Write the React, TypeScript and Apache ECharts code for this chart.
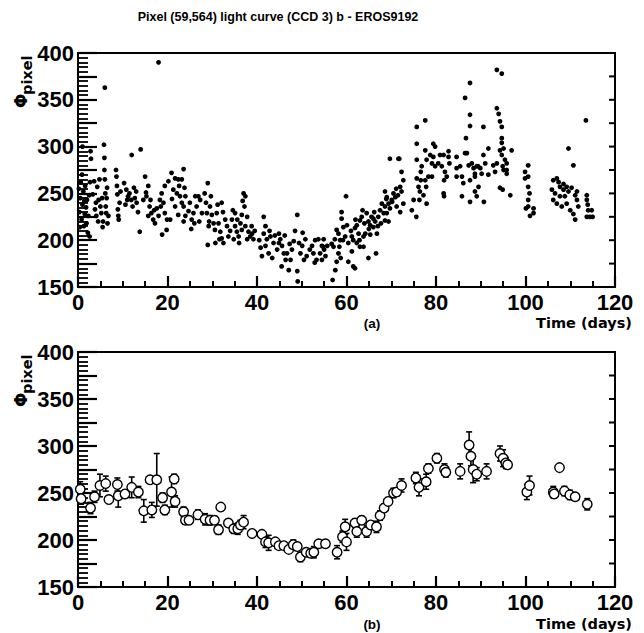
import React, { useEffect, useRef } from "react";
import * as echarts from "echarts";

// Top panel: individual measurements [time (days), flux]
const rawPoints: number[][] = [
  [0.3,230],[0.5,245],[0.6,262],[0.8,222],[1.0,300],[1.0,238],[1.2,252],[1.3,215],[1.5,228],[1.6,258],[1.8,235],[2.0,243],[2.2,208],[2.3,226],[2.5,248],[2.7,262],[2.8,295],[2.9,287],[2.6,204],[0.4,214],[0.9,270],[1.4,242],[0.2,255],[1.9,218],
  [3.3,249],[3.6,263],[3.8,233],[4.1,226],[4.3,257],[4.5,220],[4.6,243],[4.8,265],[5.0,236],[5.2,229],[5.4,245],[5.6,220],[5.8,302],[5.9,288],[5.9,275],[6.0,363],[6.0,265],[6.1,250],[6.2,236],[6.3,229],[6.4,245],[6.5,256],[6.6,218],[5.5,214],[4.0,240],[6.8,226],
  [8.5,275],[8.6,268],[8.7,258],[8.8,249],[8.9,233],[9.0,226],[9.1,222],[9.3,240],[9.5,252],
  [10.3,261],[10.8,254],[11.2,247],[11.5,250],[11.9,243],[12.0,291],[12.2,236],[11.0,243],[12.7,245],[13.1,240],[12.5,256],[13.0,252],[13.8,209],[14.0,297],[13.4,230],[10.6,238],
  [15.0,268],[15.7,258],[15.3,247],[16.0,236],[16.4,229],[16.8,222],[17.2,218],[15.7,226],[14.6,243],[15.2,251],[16.2,243],[17.0,232],
  [18.0,390],[18.7,250],[19.1,240],[19.4,229],[18.3,243],[18.8,206],[19.8,211],[17.6,234],[18.0,226],[19.4,258],[20.2,263],[18.5,236],[19.9,222],
  [20.9,272],[21.7,266],[22.4,265],[23.2,265],[21.3,254],[22.1,250],[22.8,247],[23.2,240],[21.7,236],[22.4,227],[20.6,222],[23.6,276],[23.8,256],[24.0,247],[23.6,236],[24.0,226],[23.6,220],[21.0,244],[22.6,258],
  [24.7,231],[25.4,222],[25.8,229],[26.5,236],[26.9,247],[27.3,243],[27.7,229],[26.2,247],[25.0,240],[27.1,220],[25.3,212],[26.0,218],
  [29.0,261],[28.6,240],[28.8,229],[29.2,215],[29.0,195],[29.5,236],[29.9,227],[30.3,218],[30.6,211],[29.7,247],[29.3,220],[28.3,250],
  [31.0,229],[31.4,218],[31.8,209],[32.1,202],[32.5,197],[32.9,222],[32.1,240],[33.3,215],[33.6,204],[31.6,201],[30.7,197],[32.4,230],[31.2,238],
  [34.4,222],[35.1,215],[35.5,209],[35.9,204],[36.3,218],[36.6,227],[37.0,250],[37.4,247],[37.2,236],[34.8,201],[36.0,197],[35.1,229],[36.6,211],[34.0,210],[37.4,215],[35.6,222],[34.6,232],[36.8,242],
  [38.1,209],[38.5,204],[37.8,201],[38.9,207],[39.2,201],[37.8,225],[38.8,215],[39.5,210],
  [41.5,225],[41.9,215],[41.5,207],[42.2,201],[41.9,194],[42.6,186],[43.4,181],[43.7,197],[43.0,204],[40.8,192],[41.1,183],[40.5,200],[42.8,210],[44.0,205],
  [44.9,207],[45.2,201],[45.6,194],[46.0,186],[46.4,179],[44.9,197],[46.7,186],[47.1,168],[48.2,199],[47.8,190],[47.5,179],[45.5,172],[44.5,190],[46.2,205],[47.3,196],
  [49.0,227],[49.0,167],[49.1,156],[49.7,186],[50.1,194],[50.8,201],[50.5,179],[49.4,197],[51.1,183],[48.5,210],[50.2,208],
  [52.3,194],[52.6,186],[53.3,179],[53.7,201],[54.1,186],[54.5,194],[54.9,201],[55.3,183],[52.9,176],[54.5,179],[55.7,194],[51.8,190],[53.0,200],[55.0,190],
  [54.8,193],[56.9,157.5],[57.5,168],[57.8,177],[57.1,193],[58.2,186],[58.6,200],[58.2,207],[57.8,211],[58.9,223],[58.9,230],[59.3,214],[59.2,200],[58.7,181],[59.7,204],[59.9,247],[60.1,216],[60.4,197],[60.4,177],[61.2,188],[61.5,172],[61.9,170],[58.4,193],[57.4,201],[56.7,196],
  [61.2,204],[61.5,200],[61.9,213],[62.3,216],[62.7,207],[63.0,221],[63.4,225],[63.6,232],[62.3,197],[63.0,193],[63.8,204],[63.8,193],[62.9,200],[61.0,210],[62.0,222],
  [64.5,229],[64.9,220],[65.3,216],[65.6,225],[66.0,214],[66.4,220],[66.8,207],[64.9,181],[66.6,186],[67.1,225],[67.5,232],[67.9,239],[68.3,229],[68.6,221],[64.2,207],[65.3,206],[66.0,223],[65.0,212],[66.2,230],[67.0,215],[67.7,218],[64.0,218],
  [68.6,252],[69.0,246],[69.4,239],[69.7,234],[70.1,243],[70.5,250],[69.7,287],[70.9,246],[71.2,236],[71.6,287],[72.0,230],[72.3,273],[72.7,264],[72.3,252],[72.7,239],[71.1,255],[72.0,257],[71.8,287],[69.0,229],[69.4,220],[68.6,236],[70.2,241],[71.5,248],[68.9,244],
  [74.6,232],[75.0,243],[75.6,225],[75.7,266],[75.7,286],[75.7,303],[75.7,321],[76.1,257],[76.4,252],[76.3,243],[76.6,273],[76.8,279],[76.6,264],[77.2,248],
  [77.6,328],[77.6,296],[77.9,286],[77.6,264],[77.8,257],[77.9,239],[78.3,268],[78.7,291],[79.1,282],[79.4,303],[79.8,300],[79.1,268],[79.8,279],[79.4,289],
  [80.5,282],[81.3,279],[80.9,291],[81.7,291],[82.0,273],[81.8,264],[81.7,250],[81.8,247],[82.8,295],[82.8,289],[83.0,282],[82.4,268],
  [84.6,289],[84.6,277],[85.4,279],[84.6,268],[85.8,268],[86.1,261],[85.8,247],[86.5,293],[86.7,309],[87.6,241],[87.6,264],[86.9,293],[86.5,352],[87.6,368],[87.6,334],[87.6,322],[87.3,280],
  [88.0,282],[88.4,277],[88.7,271],[89.1,279],[89.5,257],[89.9,277],[90.2,271],[90.6,321],[90.6,291],[91.0,282],[90.7,241],[88.7,268],[88.7,252],[89.1,247],[91.7,298],[91.7,270],[89.4,279],
  [93.6,382],[94.7,378],[93.6,341],[94.0,335],[94.3,327],[94.7,321],[94.7,309],[94.7,304],[94.3,296],[94.7,291],[95.1,298],[95.4,286],[95.8,282],[94.9,279],[93.6,282],[92.8,280],[93.2,273],[95.1,275],[95.8,275],[94.3,256],[94.9,254],[95.8,271],[96.6,248],[96.9,296],
  [100.6,280],[99.9,273],[99.9,266],[100.6,268],[100.6,257],[100.9,250],[100.6,243],[100.1,234],[101.0,226],[101.8,229],[101.8,234],[100.6,236],
  [106.2,264],[107.0,266],[107.4,262],[107.7,257],[105.9,254],[106.6,250],[106.2,243],[107.0,239],[107.7,247],[108.5,254],[108.8,247],[109.2,239],[109.6,252],[109.6,298],[110.7,280],[110.0,232],[110.7,228],[111.1,222],[111.5,243],[111.8,236],[108.1,236],[109.2,257],[110.3,256],[111.1,248],[111.5,252],[108.5,260],
  [113.5,328],[113.7,248],[113.7,243],[113.9,238],[113.7,225],[114.4,225],[115.0,225],[114.0,232],[114.8,232],
];

// Bottom panel: nightly binned values
const binDays: number[] = [0.5,0.7,2.8,3.7,4.9,6.2,6.9,8.8,9.0,10.5,12.0,13.5,14.7,16.1,16.5,17.6,18.9,19.4,20.9,21.5,21.7,23.6,24.0,24.8,26.8,28.4,29.5,30.5,31.4,31.9,33.6,34.8,35.7,36.3,37.0,38.9,41.1,41.9,42.6,44.1,44.9,46.0,47.1,48.1,49.0,49.7,51.0,52.0,52.7,53.8,55.3,57.9,59.1,59.7,60.0,61.9,62.3,63.4,64.5,65.4,66.7,67.5,68.4,69.3,70.5,71.2,72.3,75.5,76.2,77.8,78.3,80.2,81.9,82.2,85.4,87.4,87.8,88.3,89.1,91.3,94.3,95.0,95.6,96.0,100.3,100.9,106.2,106.4,107.6,108.7,109.9,111.1,113.8];
const binValues: number[] = [254,244,234,246,258,260,243,259,247,249,256,251,231,264,232,264,245,232,251,265,241,230,221,221,227,222,221,221,211,235,218,212,212,216,219,207,206,198,197,198,194,194,190,195,193,182,187,186,187,196,196,187,203.5,214,198,218,209,221,209,216,214,226,234,241,250,251,258,266,256,262,276,287,275,272,273,301,289,275,270,273,292,287,282,280,251,258,251,249,277,252,248,246,238];
const binErrors: number[] = [8,6,6,6,12,8,4,7,12,3,11,6,12,3,8,28,5,5,16,5,6,5,4,3,5,6,5,4,5,2,3,5,6,5,7,3,4,6,8,3,3,3,3,5,4,5,3,4,6,2,2,7,6,8,9,4,6,4,6,3,6,5,4,4,5,4,7,6,9,8,5,5,6,5,8,14,10,14,7,8,8,9,6,4,8,10,6,4,0,5,5,3,6];

// Axis ranges and ticks
const xMin = 0;
const xMax = 120;
const yMin = 150;
const yMax = 400;
const yLabelTicks = [150, 200, 250, 300, 350, 400];
const yRightTicks = [175, 200, 225, 250, 275, 300, 325, 350, 375];

const FONT = "Liberation Sans, Arial, Helvetica, sans-serif";
const WIDE = "DejaVu Sans, Verdana, sans-serif";

export default function App() {
  const ref = useRef<HTMLDivElement>(null);
  useEffect(() => {
    if (!ref.current) return;
    const chart = echarts.init(ref.current, undefined, { renderer: "svg" });
    const binned = binDays.map((d, i) => [d, binValues[i], binErrors[i]]);

    const xAx = (gi: number) => ({
      type: "value" as const,
      gridIndex: gi,
      min: xMin,
      max: xMax,
      interval: 20,
      axisLine: { show: true, onZero: false, lineStyle: { color: "#000", width: 2 } },
      axisTick: { show: true, inside: true, length: 11, lineStyle: { color: "#000", width: 2.2 } },
      minorTick: { show: true, splitNumber: 4, length: 6, lineStyle: { color: "#000", width: 2 } },
      splitLine: { show: false },
      minorSplitLine: { show: false },
      axisLabel: { show: true, color: "#000", fontSize: 22, fontWeight: "bold" as const, fontFamily: FONT, margin: 4 },
    });
    const yAx = (gi: number) => ({
      type: "value" as const,
      gridIndex: gi,
      min: yMin,
      max: yMax,
      interval: 25,
      axisLine: { show: true, onZero: false, lineStyle: { color: "#000", width: 2 } },
      axisTick: { show: true, inside: true, length: 19, lineStyle: { color: "#000", width: 2.2 } },
      minorTick: { show: true, splitNumber: 5, length: 10, lineStyle: { color: "#000", width: 1.8 } },
      splitLine: { show: false },
      minorSplitLine: { show: false },
      axisLabel: {
        show: true,
        color: "#000",
        fontSize: 22,
        fontWeight: "bold" as const,
        fontFamily: FONT,
        margin: 4,
        formatter: (v: number) => (yLabelTicks.indexOf(v) >= 0 ? String(v) : ""),
      },
    });

    const rightTicks = (gi: number) => ({
      type: "scatter",
      xAxisIndex: gi,
      yAxisIndex: gi,
      data: yRightTicks.map((v) => [xMax, v]),
      symbol: "rect",
      symbolSize: [6, 2],
      symbolOffset: [-3, 0],
      clip: false,
      silent: true,
      itemStyle: { color: "#000", opacity: 1 },
    });

    chart.setOption({
      animation: false,
      backgroundColor: "#fff",
      grid: [
        { left: 78, top: 53, width: 537, height: 234, show: true, borderColor: "#000", borderWidth: 2, backgroundColor: "transparent" },
        { left: 78, top: 352, width: 537, height: 235, show: true, borderColor: "#000", borderWidth: 2, backgroundColor: "transparent" },
      ],
      xAxis: [xAx(0), xAx(1)],
      yAxis: [yAx(0), yAx(1)],
      series: [
        rightTicks(0),
        rightTicks(1),
        {
          type: "scatter",
          xAxisIndex: 0,
          yAxisIndex: 0,
          data: rawPoints,
          symbol: "circle",
          symbolSize: 4.8,
          itemStyle: { color: "#000", opacity: 1 },
        },
        {
          type: "custom",
          xAxisIndex: 1,
          yAxisIndex: 1,
          data: binned,
          renderItem: (params: any, api: any) => {
            const x = api.value(0);
            const y = api.value(1);
            const e = api.value(2);
            if (!e) return { type: "group", children: [] };
            const top = api.coord([x, y + e]);
            const bot = api.coord([x, y - e]);
            const cap = 3;
            const st = { stroke: "#000", lineWidth: 1.6 };
            return {
              type: "group",
              children: [
                { type: "line", shape: { x1: top[0], y1: top[1], x2: bot[0], y2: bot[1] }, style: st },
                { type: "line", shape: { x1: top[0] - cap, y1: top[1], x2: top[0] + cap, y2: top[1] }, style: st },
                { type: "line", shape: { x1: bot[0] - cap, y1: bot[1], x2: bot[0] + cap, y2: bot[1] }, style: st },
              ],
            };
          },
          z: 2,
        },
        {
          type: "scatter",
          xAxisIndex: 1,
          yAxisIndex: 1,
          data: binned.map((b) => [b[0], b[1]]),
          symbol: "circle",
          symbolSize: 9.5,
          itemStyle: { color: "#fff", borderColor: "#000", borderWidth: 1.4, opacity: 1 },
          z: 3,
        },
      ],
    });

    const ylabel = (top: number) => [
      {
        type: "text",
        x: 21,
        y: top + 55,
        rotation: Math.PI / 2,
        style: { text: "Φ", fill: "#000", font: `bold 17px ${WIDE}`, textAlign: "left", textVerticalAlign: "middle" },
      },
      {
        type: "text",
        x: 27,
        y: top + 42,
        rotation: Math.PI / 2,
        style: { text: "pixel", fill: "#000", font: `bold 14.5px ${WIDE}`, textAlign: "left", textVerticalAlign: "middle" },
      },
    ];

    chart.setOption({
      graphic: [
        {
          type: "text",
          x: 278,
          y: 17,
          style: {
            text: "Pixel (59,564) light curve (CCD 3) b - EROS9192",
            fill: "#000",
            font: `bold 12.5px ${FONT}`,
            textAlign: "center",
            textVerticalAlign: "middle",
          },
        },
        ...ylabel(53),
        ...ylabel(352),
        { type: "text", x: 372, y: 323, style: { text: "(a)", fill: "#000", font: `bold 13.5px ${FONT}`, textAlign: "center", textVerticalAlign: "middle" } },
        { type: "text", x: 632, y: 323, style: { text: "Time (days)", fill: "#000", font: `bold 14.5px ${WIDE}`, textAlign: "right", textVerticalAlign: "middle" } },
        { type: "text", x: 372, y: 624, style: { text: "(b)", fill: "#000", font: `bold 13.5px ${FONT}`, textAlign: "center", textVerticalAlign: "middle" } },
        { type: "text", x: 632, y: 624, style: { text: "Time (days)", fill: "#000", font: `bold 14.5px ${WIDE}`, textAlign: "right", textVerticalAlign: "middle" } },
      ],
    });
    return () => chart.dispose();
  }, []);
  return (
    <div
      ref={ref}
      style={{ position: "fixed", left: 0, top: 0, width: 644, height: 633, background: "#fff" }}
    />
  );
}
